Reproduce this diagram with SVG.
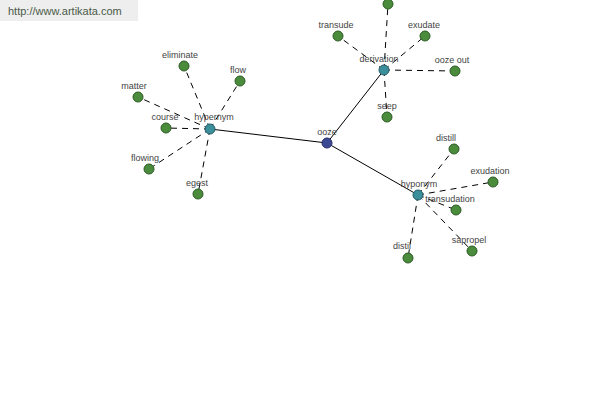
<svg xmlns="http://www.w3.org/2000/svg" width="600" height="400" viewBox="0 0 600 400">
<style>
.bg{fill:#ffffff}
.solid{stroke:#000;stroke-width:1;fill:none}
.dash{stroke:#000;stroke-width:1;stroke-dasharray:6,5;fill:none}
.leaf{fill:#4a8c3c;stroke:#2c5a24;stroke-width:1}
.hub{fill:#3a8f9a;stroke:#245a66;stroke-width:1}
.root{fill:#3c4a96;stroke:#242e66;stroke-width:1}
text{font-family:"Liberation Sans",Arial,sans-serif;font-size:9px;fill:#444;text-anchor:middle}
.wm{font-size:11px;fill:#4a5a48;text-anchor:start}
</style>
<rect class="bg" x="0" y="0" width="600" height="400"/>
<rect x="0" y="0" width="138" height="21" fill="#eeeeee"/>
<text class="wm" x="8" y="15">http://www.artikata.com</text>
<g id="connectors">
<line class="solid" x1="210" y1="129" x2="327" y2="143"/>
<line class="solid" x1="327" y1="143" x2="384" y2="70"/>
<line class="solid" x1="327" y1="143" x2="418" y2="195"/>
<line class="dash" x1="210" y1="129" x2="184" y2="66"/>
<line class="dash" x1="210" y1="129" x2="240" y2="81"/>
<line class="dash" x1="210" y1="129" x2="138" y2="97"/>
<line class="dash" x1="210" y1="129" x2="166" y2="128"/>
<line class="dash" x1="210" y1="129" x2="149" y2="169"/>
<line class="dash" x1="210" y1="129" x2="198" y2="194"/>
<line class="dash" x1="384" y1="70" x2="388" y2="4"/>
<line class="dash" x1="384" y1="70" x2="338" y2="36"/>
<line class="dash" x1="384" y1="70" x2="425" y2="36"/>
<line class="dash" x1="384" y1="70" x2="455" y2="71"/>
<line class="dash" x1="384" y1="70" x2="387" y2="117"/>
<line class="dash" x1="418" y1="195" x2="454" y2="149"/>
<line class="dash" x1="418" y1="195" x2="493" y2="182"/>
<line class="dash" x1="418" y1="195" x2="456" y2="210"/>
<line class="dash" x1="418" y1="195" x2="472" y2="251"/>
<line class="dash" x1="418" y1="195" x2="408" y2="258"/>
</g>
<g id="n-eliminate"><circle class="leaf" cx="184" cy="66" r="5"/><text x="180" y="58">eliminate</text></g>
<g id="n-flow"><circle class="leaf" cx="240" cy="81" r="5"/><text x="238" y="73">flow</text></g>
<g id="n-matter"><circle class="leaf" cx="138" cy="97" r="5"/><text x="134" y="89">matter</text></g>
<g id="n-course"><circle class="leaf" cx="166" cy="128" r="5"/><text x="165" y="120">course</text></g>
<g id="n-flowing"><circle class="leaf" cx="149" cy="169" r="5"/><text x="145" y="161">flowing</text></g>
<g id="n-egest"><circle class="leaf" cx="198" cy="194" r="5"/><text x="197" y="186">egest</text></g>
<g id="n-hypernym"><circle class="hub" cx="210" cy="129" r="5"/><text x="214" y="120">hypernym</text></g>
<g id="n-top"><circle class="leaf" cx="388" cy="4" r="5"/></g>
<g id="n-transude"><circle class="leaf" cx="338" cy="36" r="5"/><text x="336" y="28">transude</text></g>
<g id="n-exudate"><circle class="leaf" cx="425" cy="36" r="5"/><text x="424" y="28">exudate</text></g>
<g id="n-oozeout"><circle class="leaf" cx="455" cy="71" r="5"/><text x="452" y="63">ooze out</text></g>
<g id="n-seep"><circle class="leaf" cx="387" cy="117" r="5"/><text x="387" y="109">seep</text></g>
<g id="n-derivation"><circle class="hub" cx="384" cy="70" r="5"/><text x="379" y="62">derivation</text></g>
<g id="n-distill"><circle class="leaf" cx="454" cy="149" r="5"/><text x="446" y="141">distill</text></g>
<g id="n-exudation"><circle class="leaf" cx="493" cy="182" r="5"/><text x="490" y="174">exudation</text></g>
<g id="n-transudation"><circle class="leaf" cx="456" cy="210" r="5"/><text x="450" y="202">transudation</text></g>
<g id="n-sapropel"><circle class="leaf" cx="472" cy="251" r="5"/><text x="469" y="243">sapropel</text></g>
<g id="n-distil"><circle class="leaf" cx="408" cy="258" r="5"/><text x="402" y="249">distil</text></g>
<g id="n-hyponym"><circle class="hub" cx="418" cy="195" r="5"/><text x="419" y="187">hyponym</text></g>
<g id="n-ooze"><circle class="root" cx="327" cy="143" r="5"/><text x="327" y="135">ooze</text></g>
</svg>
